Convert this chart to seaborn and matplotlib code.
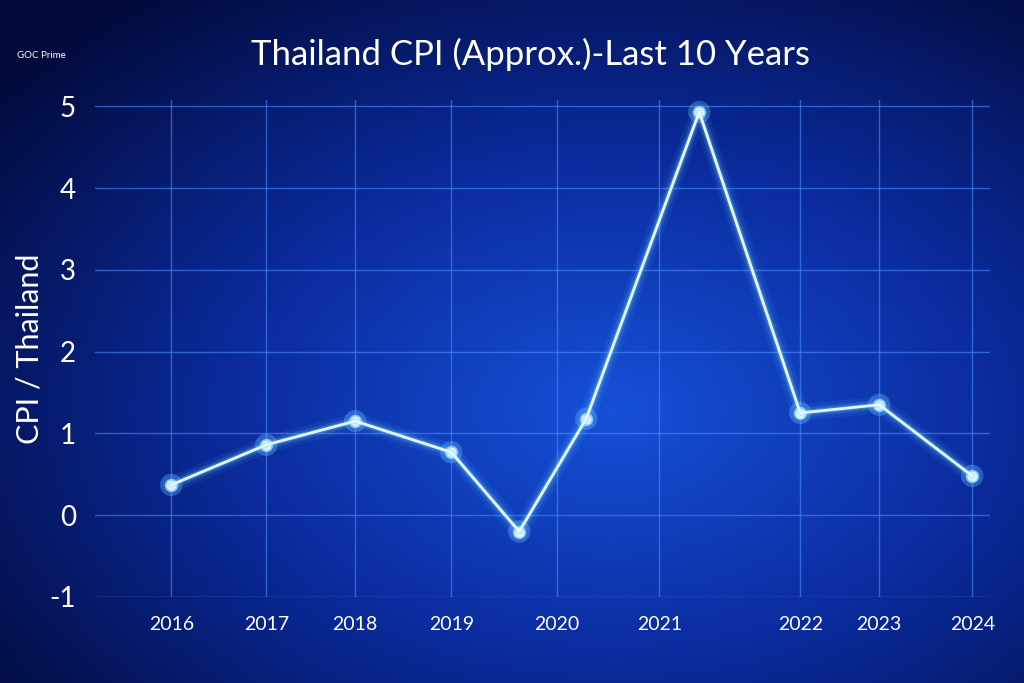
import matplotlib
matplotlib.use("Agg")
import matplotlib.pyplot as plt
import seaborn as sns
import numpy as np
import pandas as pd

point_x = [171, 266, 355, 451, 519, 586, 699, 800, 879, 972]
cpi = [0.37, 0.86, 1.15, 0.77, -0.2, 1.18, 4.93, 1.25, 1.35, 0.48]
tick_x = [171, 266, 355, 451, 557, 659, 800, 879, 972]
tick_labels = ["2016", "2017", "2018", "2019", "2020", "2021", "2022", "2023", "2024"]
y_ticks = [-1, 0, 1, 2, 3, 4, 5]

sns.set_style("dark")
plt.rcParams['font.family'] = ['Lato', 'DejaVu Sans']
fig = plt.figure(figsize=(10.24, 6.83), dpi=100)
# background gradient
bg = fig.add_axes([0, 0, 1, 1])
yy, xx = np.mgrid[0:1:200j, 0:1:300j]
r = np.sqrt((xx - 0.6) ** 2 + (yy - 0.6) ** 2)
bg.imshow(np.clip(1 - r * 1.3, 0, 1), cmap=matplotlib.colors.LinearSegmentedColormap.from_list(
    "b", ["#020a3a", "#0a2a9a", "#1650d8"]), aspect="auto", extent=[0, 1, 0, 1])
bg.axis("off")

ax = fig.add_axes([0.093, 0.126, 0.874, 0.728])
ax.patch.set_alpha(0)
df = pd.DataFrame({"x": point_x, "cpi": cpi})
for lw, a in [(12, 0.08), (7, 0.15), (4, 0.3)]:
    sns.lineplot(data=df, x="x", y="cpi", ax=ax, color="#66ccff", lw=lw, alpha=a)
sns.lineplot(data=df, x="x", y="cpi", ax=ax, color="#e8f6ff", lw=2)
sns.scatterplot(data=df, x="x", y="cpi", ax=ax, color="#66bbff", s=260, alpha=0.35, edgecolor="none")
sns.scatterplot(data=df, x="x", y="cpi", ax=ax, color="white", s=70, edgecolor="#88ccff", linewidth=1.2)

ax.set_xlim(95, 990)
ax.set_ylim(-1, 5.08)
ax.set_xticks(tick_x)
ax.set_xticklabels(tick_labels, color="white", fontsize=14)
ax.set_yticks(y_ticks)
ax.set_yticklabels([str(v) for v in y_ticks], color="white", fontsize=20)
ax.tick_params(length=0, pad=14)
ax.grid(True, color="#4a8cff", alpha=0.6, lw=1)
for s in ax.spines.values():
    s.set_visible(False)
ax.set_xlabel("")
ax.set_ylabel("CPI / Thailand", color="white", fontsize=22)
fig.text(0.518, 0.92, "Thailand CPI (Approx.)-Last 10 Years", color="white", fontsize=25, ha="center", va="center")
fig.text(0.04, 0.915, "GOC Prime", color="white", fontsize=7, ha="center")
fig.savefig("out.png", dpi=100)
